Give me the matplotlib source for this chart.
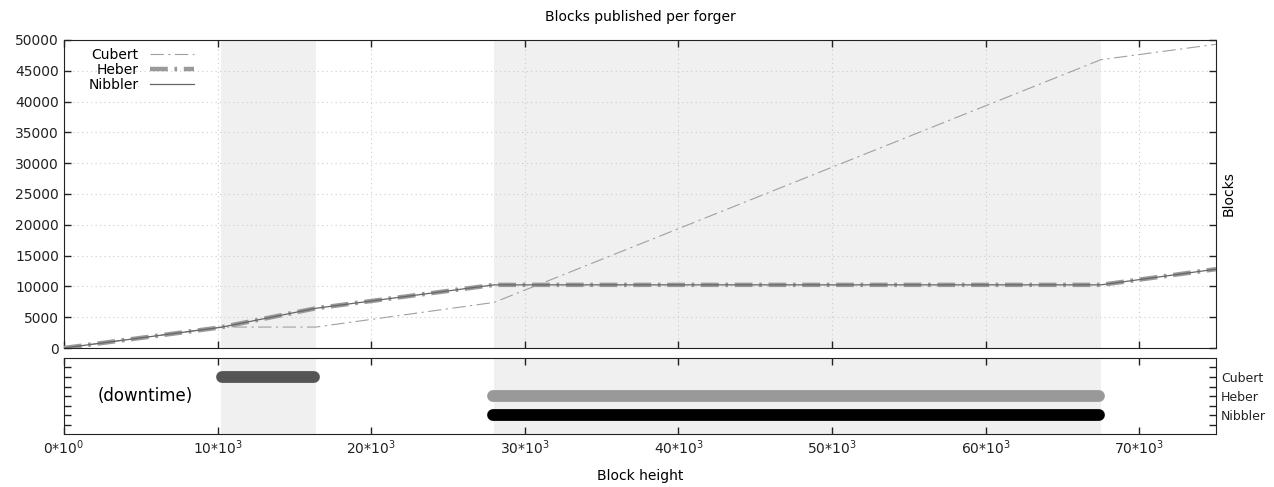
import matplotlib.pyplot as plt
import numpy as np

# ---------- Data ----------
heights = [0, 10200, 16400, 28000, 67500, 75000]
cubert = [0, 3400, 3400, 7400, 46800, 49300]
heber = [0, 3350, 6450, 10250, 10250, 12800]
nibbler = [0, 3350, 6450, 10250, 10250, 12800]

# downtime intervals per forger (start, end) and row in the lower panel
downtime = {
    "Cubert": [(10300, 16300)],
    "Heber": [(27900, 67400)],
    "Nibbler": [(27900, 67400)],
}
rows = {"Cubert": 3, "Heber": 2, "Nibbler": 1}
bar_colors = {"Cubert": "#555555", "Heber": "#999999", "Nibbler": "#000000"}
shaded = [(10200, 16400), (28000, 67500)]

x_ticks = np.arange(0, 75001, 10000)
x_labels = ["0*10$^{0}$"] + [f"{int(t/1000)}*10$^{{3}}$" for t in x_ticks[1:]]

# ---------- Figure ----------
fig = plt.figure(figsize=(12.74, 4.87), dpi=100)
ax = fig.add_axes([0.0502, 0.2854, 0.9043, 0.6325])
ax2 = fig.add_axes([0.0502, 0.1088, 0.9043, 0.1561])

for a in (ax, ax2):
    for s, e in shaded:
        a.axvspan(s, e, color="#f0f0f0", lw=0, zorder=0)
    a.set_xlim(0, 75000)
    a.set_xticks(x_ticks)
    a.tick_params(direction="in", top=True, right=True, length=5, width=1,
                  labelsize=10, colors="#222222")
    for sp in a.spines.values():
        sp.set_color("#222222")

# upper panel: cumulative blocks
ax.plot(heights, cubert, color="#a0a0a0", lw=0.8, dashes=(12, 4, 2, 4), label="Cubert", zorder=3)
ax.plot(heights, heber, color="#999999", lw=3.2, dashes=(4, 1.5, 0.6, 1.5), label="Heber", zorder=3)
ax.plot(heights, nibbler, color="#666666", lw=0.9, label="Nibbler", zorder=4)

ax.set_ylim(0, 50000)
ax.set_yticks(np.arange(0, 50001, 5000))
ax.set_xticklabels([])
ax.grid(True, linestyle=(0, (1, 3)), color="#cccccc", lw=0.8)
ax.set_axisbelow(True)
ax.yaxis.set_label_position("right")
ax.set_ylabel("Blocks", fontsize=10, labelpad=4)
ax.set_title("Blocks published per forger", fontsize=10, pad=14)
ax.legend(loc="upper left", frameon=False, markerfirst=False, fontsize=10,
          handlelength=3.2, borderaxespad=0.2, labelspacing=0.05,
          bbox_to_anchor=(0.014, 1.0))

# lower panel: downtime bars
for name, spans in downtime.items():
    for s, e in spans:
        ax2.plot([s, e], [rows[name], rows[name]], color=bar_colors[name],
                 lw=8.5, solid_capstyle="round", zorder=3)
ax2.text(5300, 2, "(downtime)", ha="center", va="center", fontsize=12)

ax2.set_ylim(0, 4)
yt = np.arange(0.5, 4.0, 0.5)
ax2.set_yticks(yt)
names_by_row = {v: k for k, v in rows.items()}
ax2.set_yticklabels([names_by_row.get(t, "") for t in yt], fontsize=9)
ax2.tick_params(axis="y", labelleft=False, labelright=True, length=5)
ax2.set_xticklabels(x_labels)
ax2.set_xlabel("Block height", fontsize=10, labelpad=8)

fig.savefig("out.png", dpi=100)
